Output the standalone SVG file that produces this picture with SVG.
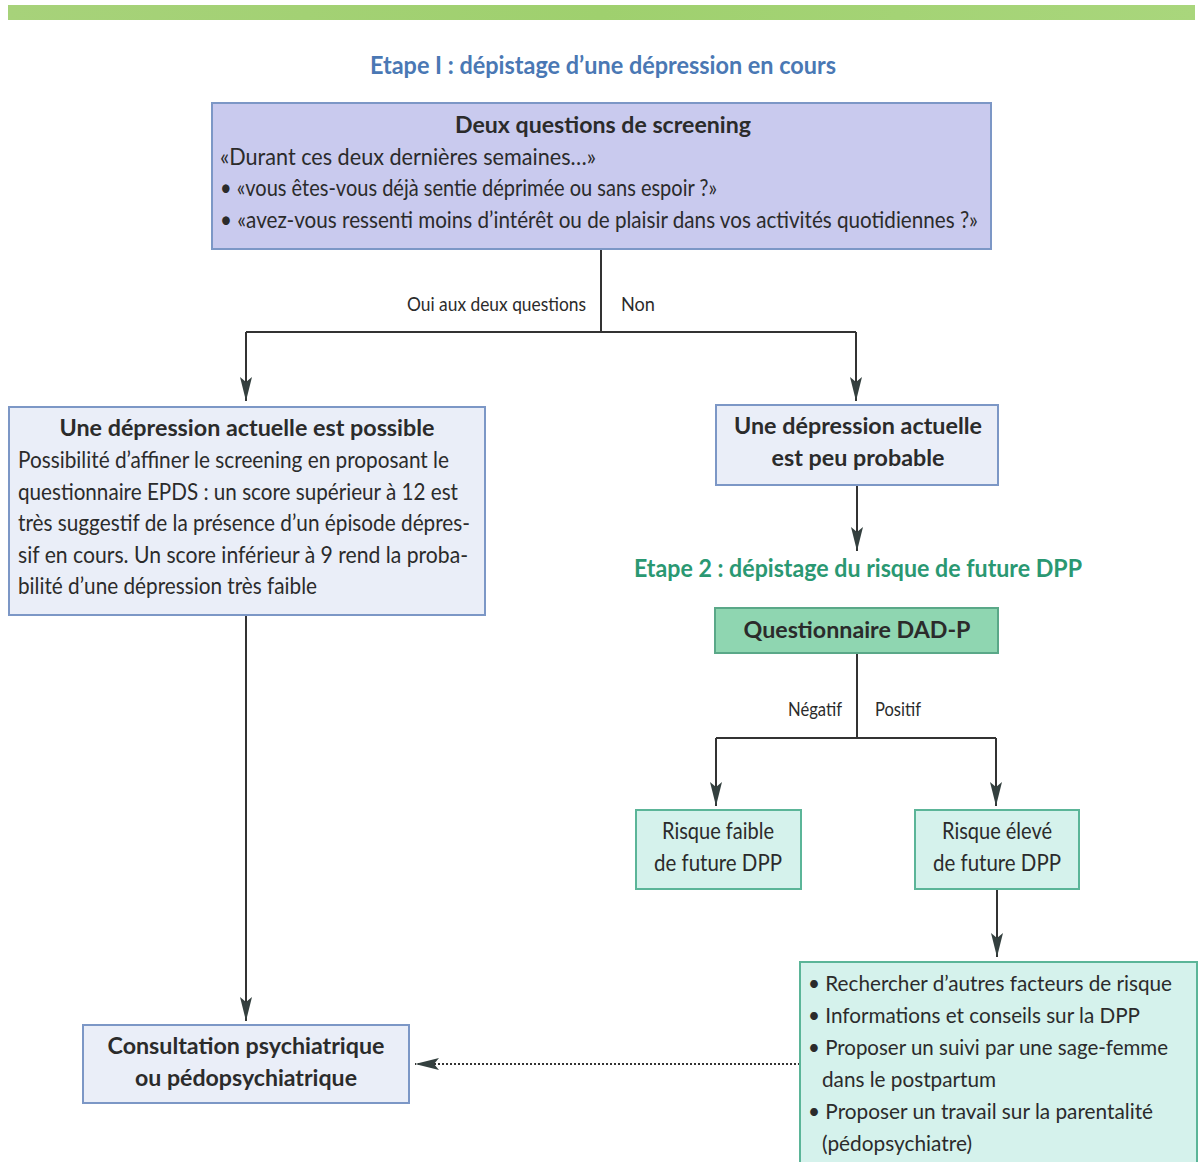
<svg xmlns="http://www.w3.org/2000/svg" width="1201" height="1162" viewBox="0 0 1201 1162">
<defs>
<linearGradient id="band" x1="0" y1="0" x2="1" y2="0">
<stop offset="0" stop-color="#a7d27a"/><stop offset="0.5" stop-color="#9fd06e"/><stop offset="1" stop-color="#a9d67c"/>
</linearGradient>
<marker id="ah" markerUnits="userSpaceOnUse" markerWidth="26" markerHeight="14" refX="24" refY="7" orient="auto">
<path d="M0,1 L24,7 L0,13 L5,7 Z" fill="#34403f"/>
</marker>
</defs>
<style>
text{font-family:"Lato","Liberation Sans",sans-serif;fill:#2b2b2b;font-size:23px}
.b{font-weight:bold}
.c{text-anchor:middle}
.t1{fill:#4a78b4;font-weight:bold;font-size:24px}
.t2{fill:#2a9872;font-weight:bold;font-size:24px}
.lab{font-size:19px}
.sm{font-size:21px}
.lav{fill:#c9caee;stroke:#7c97c6;stroke-width:2}
.blu{fill:#eaeef8;stroke:#7c97c6;stroke-width:2}
.grn{fill:#8fd6b1;stroke:#5aa888;stroke-width:2}
.lg{fill:#d5f2ec;stroke:#5bb598;stroke-width:2}
.ln{fill:none;stroke:#333;stroke-width:2}
.ar{marker-end:url(#ah)}
.dot{fill:none;stroke:#333;stroke-width:2;stroke-dasharray:2 2}
</style>
<rect x="8" y="5" width="1187" height="15" fill="url(#band)"/>
<text class="t1 c" x="603" y="74" textLength="466" lengthAdjust="spacingAndGlyphs">Etape I : dépistage d’une dépression en cours</text>
<text class="t2 c" x="858" y="577" textLength="448" lengthAdjust="spacingAndGlyphs">Etape 2 : dépistage du risque de future DPP</text>

<g id="connectors">
<path class="ln" d="M601,249 V332 M246,332 H856"/>
<path class="ln ar" d="M246,332 V401"/>
<path class="ln ar" d="M856,332 V401"/>
<path class="ln ar" d="M857,485 V551"/>
<path class="ln" d="M857,653 V738 M716,738 H996"/>
<path class="ln ar" d="M716,738 V806"/>
<path class="ln ar" d="M996,738 V806"/>
<path class="ln ar" d="M997,889 V957"/>
<path class="ln ar" d="M246,615 V1021"/>
<path class="dot ar" d="M800,1064 H415"/>
<text class="lab" x="586" y="311" text-anchor="end" textLength="179" lengthAdjust="spacingAndGlyphs">Oui aux deux questions</text>
<text class="lab" x="621" y="311" textLength="34" lengthAdjust="spacingAndGlyphs">Non</text>
<text class="lab" x="842" y="716" text-anchor="end" textLength="54" lengthAdjust="spacingAndGlyphs">Négatif</text>
<text class="lab" x="875" y="716" textLength="46" lengthAdjust="spacingAndGlyphs">Positif</text>
</g>

<g id="screening">
<rect class="lav" x="212" y="103" width="779" height="146"/>
<text class="b c" x="603" y="133" textLength="296" lengthAdjust="spacingAndGlyphs">Deux questions de screening</text>
<text x="220" y="165" textLength="376" lengthAdjust="spacingAndGlyphs">«Durant ces deux dernières semaines…»</text>
<text x="220" y="196" textLength="497" lengthAdjust="spacingAndGlyphs">• «vous êtes-vous déjà sentie déprimée ou sans espoir ?»</text>
<text x="220" y="228" textLength="758" lengthAdjust="spacingAndGlyphs">• «avez-vous ressenti moins d’intérêt ou de plaisir dans vos activités quotidiennes ?»</text>
</g>

<g id="possible">
<rect class="blu" x="9" y="407" width="476" height="208"/>
<text class="b c" x="247" y="436" textLength="375" lengthAdjust="spacingAndGlyphs">Une dépression actuelle est possible</text>
<text x="18" y="468" textLength="431" lengthAdjust="spacingAndGlyphs">Possibilité d’affiner le screening en proposant le</text>
<text x="18" y="500" textLength="440" lengthAdjust="spacingAndGlyphs">questionnaire EPDS : un score supérieur à 12 est</text>
<text x="18" y="531" textLength="452" lengthAdjust="spacingAndGlyphs">très suggestif de la présence d’un épisode dépres-</text>
<text x="18" y="563" textLength="450" lengthAdjust="spacingAndGlyphs">sif en cours. Un score inférieur à 9 rend la proba-</text>
<text x="18" y="594" textLength="299" lengthAdjust="spacingAndGlyphs">bilité d’une dépression très faible</text>
</g>

<g id="peu-probable">
<rect class="blu" x="716" y="405" width="282" height="80"/>
<text class="b c" x="858" y="434" textLength="248" lengthAdjust="spacingAndGlyphs">Une dépression actuelle</text>
<text class="b c" x="858" y="466" textLength="173" lengthAdjust="spacingAndGlyphs">est peu probable</text>
</g>

<g id="dadp">
<rect class="grn" x="715" y="608" width="283" height="45"/>
<text class="b c" x="857" y="638" textLength="227" lengthAdjust="spacingAndGlyphs">Questionnaire DAD-P</text>
</g>

<g id="faible">
<rect class="lg" x="636" y="810" width="165" height="79"/>
<text class="c" x="718" y="839" textLength="112" lengthAdjust="spacingAndGlyphs">Risque faible</text>
<text class="c" x="718" y="871" textLength="128" lengthAdjust="spacingAndGlyphs">de future DPP</text>
</g>

<g id="eleve">
<rect class="lg" x="915" y="810" width="164" height="79"/>
<text class="c" x="997" y="839" textLength="110" lengthAdjust="spacingAndGlyphs">Risque élevé</text>
<text class="c" x="997" y="871" textLength="128" lengthAdjust="spacingAndGlyphs">de future DPP</text>
</g>

<g id="actions">
<rect class="lg" x="800" y="962" width="397" height="210"/>
<text class="sm" x="808" y="991" textLength="364" lengthAdjust="spacingAndGlyphs">• Rechercher d’autres facteurs de risque</text>
<text class="sm" x="808" y="1023" textLength="332" lengthAdjust="spacingAndGlyphs">• Informations et conseils sur la DPP</text>
<text class="sm" x="808" y="1055" textLength="360" lengthAdjust="spacingAndGlyphs">• Proposer un suivi par une sage-femme</text>
<text class="sm" x="822" y="1087" textLength="174" lengthAdjust="spacingAndGlyphs">dans le postpartum</text>
<text class="sm" x="808" y="1119" textLength="345" lengthAdjust="spacingAndGlyphs">• Proposer un travail sur la parentalité</text>
<text class="sm" x="822" y="1151" textLength="150" lengthAdjust="spacingAndGlyphs">(pédopsychiatre)</text>
</g>

<g id="consultation">
<rect class="blu" x="83" y="1025" width="326" height="78"/>
<text class="b c" x="246" y="1054" textLength="277" lengthAdjust="spacingAndGlyphs">Consultation psychiatrique</text>
<text class="b c" x="246" y="1086" textLength="222" lengthAdjust="spacingAndGlyphs">ou pédopsychiatrique</text>
</g>
</svg>
